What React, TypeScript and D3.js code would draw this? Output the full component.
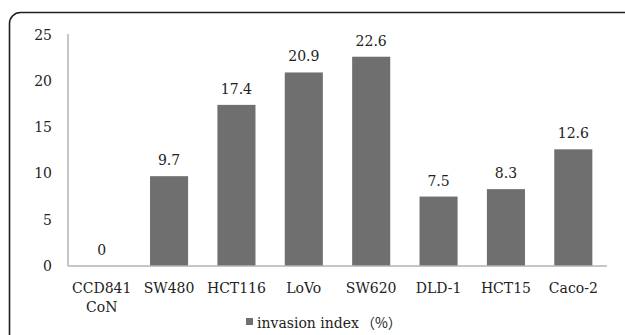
import React from "react";
import * as d3 from "d3";

const categories = ["CCD841\nCoN", "SW480", "HCT116", "LoVo", "SW620", "DLD-1", "HCT15", "Caco-2"];
const values = [0, 9.7, 17.4, 20.9, 22.6, 7.5, 8.3, 12.6];
const yTicks = [0, 5, 10, 15, 20, 25];
const seriesName = "invasion index";
const seriesUnit = "（%）";

const W = 625;
const H = 335;
const FONT = "'DejaVu Serif', 'Noto Sans CJK SC', serif";

export default function App() {
  const x = d3.scaleBand<string>().domain(categories).range([68, 607]).paddingInner(0.435).paddingOuter(0.2175);
  const y = d3.scaleLinear().domain([0, 25]).range([266, 34.5]);
  const barColor = "#6f6f6f";
  const axisColor = "#b3b3b3";

  return (
    <svg width={W} height={H} style={{ position: "absolute", left: 0, top: 0, background: "#fff" }} fontFamily={FONT}>
      <rect x={9.5} y={12.5} width={700} height={400} rx={11} ry={11} fill="#fff" stroke="#1e1e1e" strokeWidth={1.6} />
      {values.map((v, i) => {
        const c = categories[i];
        const bx = x(c)!;
        const top = y(v);
        return (
          <g key={c}>
            <rect x={bx} y={top} width={x.bandwidth()} height={y(0) - top} fill={barColor} />
            <text x={bx + x.bandwidth() / 2} y={top - 11} textAnchor="middle" fontSize={14} fill="#222">{v}</text>
          </g>
        );
      })}
      <line x1={68} x2={68} y1={y(25) - 0.5} y2={y(0)} stroke={axisColor} strokeWidth={1.5} />
      <line x1={68} x2={607} y1={y(0)} y2={y(0)} stroke={axisColor} strokeWidth={1.5} />
      {yTicks.map((t) => (
        <text key={t} x={52} y={y(t) + 5} textAnchor="end" fontSize={14} fill="#222">{t}</text>
      ))}
      {categories.map((c) => {
        const lines = c.split("\n");
        const cx = x(c)! + x.bandwidth() / 2;
        return (
          <text key={c} textAnchor="middle" fontSize={14} fill="#222">
            {lines.map((l, j) => (
              <tspan key={j} x={cx} y={293 + j * 19}>{l}</tspan>
            ))}
          </text>
        );
      })}
      <rect x={246} y={318} width={7} height={7} fill={barColor} />
      <text x={257} y={328} fontSize={14} fill="#222">
        {seriesName}
        <tspan fontFamily="'Noto Sans CJK SC'" dx={2}>{seriesUnit}</tspan>
      </text>
    </svg>
  );
}
